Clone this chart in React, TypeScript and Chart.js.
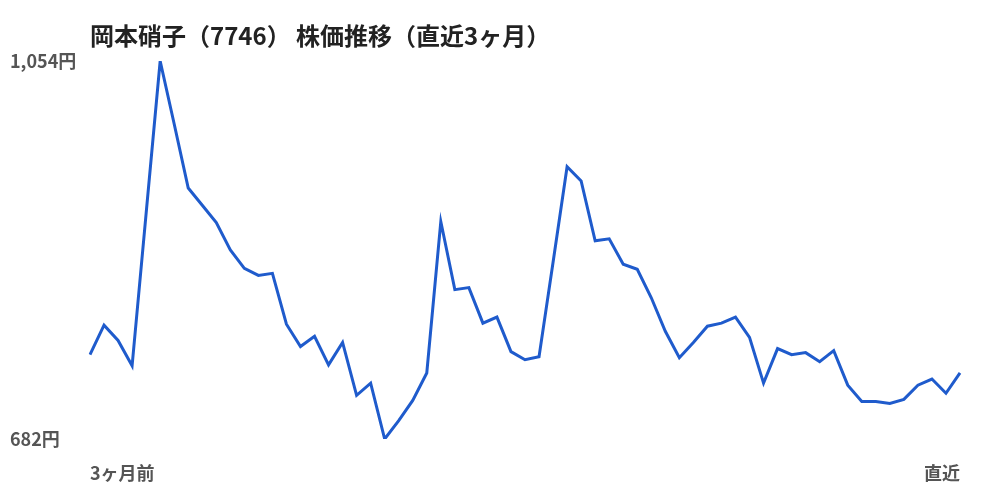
import React, { useEffect, useRef } from 'react';
import { Chart, registerables, Plugin } from 'chart.js';

Chart.register(...registerables);

const TITLE = '岡本硝子（7746） 株価推移（直近3ヶ月）';
const FONT = '"Noto Sans CJK JP", "Noto Sans", sans-serif';

// 63 trading days, oldest first (yen)
const prices: number[] = [
  765, 794, 779, 754, 904, 1054, 992, 929, 912, 895,
  868, 850, 843, 845, 795, 773, 783, 755, 777, 725,
  737, 682, 700, 720, 747, 896, 829, 831, 796, 802,
  768, 760, 763, 856, 950, 936, 877, 879, 854, 849,
  821, 788, 762, 777, 793, 796, 802, 782, 737, 771,
  765, 767, 758, 769, 735, 719, 719, 717, 721, 735,
  741, 727, 747,
];
const days: string[] = prices.map((_, i) => `d${i + 1}`);
const xTickLabels: string[] = ['3ヶ月前', '直近'];
const yTicks: number[] = [682, 1054];

const titlePlugin: Plugin<'line'> = {
  id: 'leftTitle',
  afterDraw(chart) {
    const { ctx, chartArea } = chart;
    ctx.save();
    ctx.font = `bold 24px ${FONT}`;
    ctx.fillStyle = '#222';
    ctx.textBaseline = 'middle';
    ctx.textAlign = 'left';
    ctx.fillText(TITLE, chartArea.left, 36);
    ctx.restore();
  },
};

const App: React.FC = () => {
  const canvasRef = useRef<HTMLCanvasElement | null>(null);
  const chartRef = useRef<Chart | null>(null);

  useEffect(() => {
    document.body.style.margin = '0';
    if (!canvasRef.current) return;
    if (chartRef.current) chartRef.current.destroy();

    chartRef.current = new Chart(canvasRef.current, {
      type: 'line',
      data: {
        labels: days,
        datasets: [
          {
            data: prices,
            borderColor: '#1f5bcc',
            borderWidth: 3,
            pointRadius: 0,
            tension: 0,
            fill: false,
          },
        ],
      },
      options: {
        responsive: false,
        animation: false,
        layout: { padding: { top: 61, left: 10, right: 40, bottom: 0 } },
        plugins: {
          legend: { display: false },
          tooltip: { enabled: false },
        },
        scales: {
          x: {
            grid: { display: false },
            border: { display: false },
            ticks: {
              autoSkip: false,
              maxRotation: 0,
              align: 'inner',
              padding: 15,
              color: '#555',
              font: { family: FONT, size: 18, weight: 'bold' },
              callback: (_v, i) =>
                i === 0 ? xTickLabels[0] : i === prices.length - 1 ? xTickLabels[1] : '',
            },
            afterFit: (scale) => {
              scale.height = 61;
            },
          },
          y: {
            min: yTicks[0],
            max: yTicks[1],
            grid: { display: false },
            border: { display: false },
            afterBuildTicks: (scale) => {
              scale.ticks = yTicks.map((v) => ({ value: v }));
            },
            ticks: {
              crossAlign: 'far',
              color: '#555',
              font: { family: FONT, size: 18, weight: 'bold' },
              callback: (v) => `${Number(v).toLocaleString('en-US')}円`,
            },
            afterFit: (scale) => {
              scale.width = 80;
            },
          },
        },
      },
      plugins: [titlePlugin],
    });

    return () => {
      if (chartRef.current) {
        chartRef.current.destroy();
        chartRef.current = null;
      }
    };
  }, []);

  return (
    <div style={{ width: 1000, height: 500, background: '#fff' }}>
      <canvas ref={canvasRef} width={1000} height={500} />
    </div>
  );
};

export default App;
